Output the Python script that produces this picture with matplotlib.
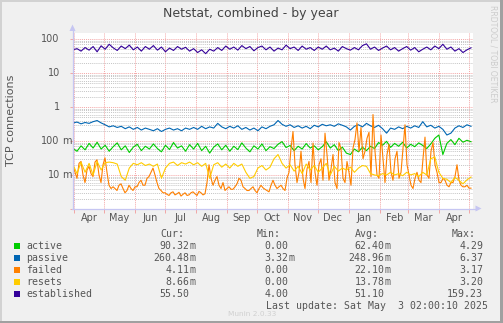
import numpy as np
import matplotlib
matplotlib.use('Agg')
import matplotlib.pyplot as plt
import matplotlib.dates as mdates
import matplotlib.ticker as mticker
import matplotlib.transforms as mtransforms
from matplotlib.patches import Rectangle, Polygon
from matplotlib.lines import Line2D
from datetime import datetime, timedelta

plt.rcParams['lines.scale_dashes'] = False

# ---------------- data ----------------
title = "Netstat, combined - by year"
ylabel = "TCP connections"
series_names = ["active", "passive", "failed", "resets", "established"]
series_colors = ["#00CC00", "#0066B3", "#FF8000", "#FFCC00", "#330099"]

active = [0.060, 0.050, 0.072, 0.055, 0.085, 0.062, 0.092, 0.058, 0.075, 0.050,
          0.068, 0.088, 0.055, 0.072, 0.046, 0.066, 0.080, 0.052, 0.070, 0.058,
          0.082, 0.060, 0.048, 0.075, 0.056, 0.090, 0.062, 0.072, 0.050, 0.078,
          0.058, 0.085, 0.052, 0.070, 0.044, 0.066, 0.082, 0.055, 0.075, 0.050,
          0.070, 0.056, 0.088, 0.062, 0.048, 0.072, 0.058, 0.082, 0.052, 0.068,
          0.060, 0.080, 0.096, 0.064, 0.074, 0.052, 0.070, 0.058, 0.084, 0.062,
          0.072, 0.055, 0.068, 0.095, 0.062, 0.078, 0.052, 0.066, 0.044, 0.040,
          0.058, 0.048, 0.066, 0.052, 0.070, 0.060, 0.090, 0.075, 0.098, 0.065,
          0.085, 0.070, 0.092, 0.062, 0.080, 0.068, 0.088, 0.074, 0.060, 0.082,
          0.120, 0.150, 0.040, 0.085, 0.110, 0.078, 0.120, 0.092, 0.105, 0.095]

passive = [0.34, 0.36, 0.32, 0.35, 0.33, 0.37, 0.40, 0.34, 0.30, 0.26,
           0.28, 0.25, 0.27, 0.23, 0.26, 0.22, 0.25, 0.21, 0.24, 0.22,
           0.20, 0.23, 0.19, 0.22, 0.24, 0.21, 0.23, 0.20, 0.24, 0.22,
           0.25, 0.22, 0.27, 0.23, 0.26, 0.24, 0.33, 0.26, 0.23, 0.27,
           0.24, 0.28, 0.22, 0.25, 0.21, 0.24, 0.20, 0.26, 0.23, 0.27,
           0.30, 0.40, 0.31, 0.27, 0.30, 0.25, 0.28, 0.24, 0.27, 0.23,
           0.29, 0.26, 0.31, 0.28, 0.30, 0.27, 0.32, 0.29, 0.26, 0.21,
           0.27, 0.30, 0.26, 0.33, 0.28, 0.25, 0.29, 0.23, 0.17, 0.24,
           0.22, 0.26, 0.23, 0.27, 0.24, 0.28, 0.25, 0.37, 0.26, 0.29,
           0.24, 0.27, 0.22, 0.15, 0.17, 0.24, 0.28, 0.25, 0.30, 0.27]

# failed is sampled twice as often (spiky series)
failed = [0.020, 0.012, 0.008, 0.022, 0.025, 0.010, 0.006, 0.014, 0.018, 0.011,
          0.009, 0.024, 0.028, 0.010, 0.006, 0.020, 0.032, 0.012, 0.005, 0.004,
          0.0045, 0.004, 0.0035, 0.005, 0.0055, 0.004, 0.003, 0.0035, 0.005, 0.004,
          0.0035, 0.0045, 0.0045, 0.006, 0.007, 0.005, 0.005, 0.008, 0.009, 0.012,
          0.016, 0.010, 0.006, 0.004, 0.0035, 0.003, 0.003, 0.0027, 0.0025, 0.003,
          0.0032, 0.0026, 0.0028, 0.0031, 0.0024, 0.0027, 0.003, 0.0025, 0.0026, 0.003,
          0.0032, 0.0028, 0.0025, 0.0033, 0.0030, 0.0026, 0.0028, 0.006, 0.020, 0.008,
          0.005, 0.007, 0.009, 0.005, 0.004, 0.006, 0.0035, 0.004, 0.0045, 0.0038,
          0.0038, 0.0045, 0.0055, 0.008, 0.007, 0.0045, 0.004, 0.0035, 0.0035, 0.004,
          0.0045, 0.0035, 0.003, 0.004, 0.005, 0.0042, 0.0038, 0.0035, 0.0032, 0.005,
          0.007, 0.005, 0.004, 0.0045, 0.005, 0.004, 0.0035, 0.008, 0.012, 0.06,
          0.19, 0.02, 0.006, 0.012, 0.05, 0.008, 0.004, 0.015, 0.025, 0.006,
          0.087, 0.012, 0.005, 0.02, 0.03, 0.007, 0.17, 0.04, 0.007, 0.015,
          0.04, 0.006, 0.004, 0.09, 0.06, 0.008, 0.006, 0.025, 0.012, 0.005,
          0.062, 0.11, 0.34, 0.05, 0.25, 0.03, 0.05, 0.12, 0.18, 0.009,
          0.6, 0.05, 0.01, 0.008, 0.15, 0.03, 0.006, 0.04, 0.08, 0.012,
          0.007, 0.03, 0.05, 0.008, 0.012, 0.06, 0.3, 0.02, 0.01, 0.005,
          0.004, 0.008, 0.012, 0.007, 0.006, 0.03, 0.13, 0.01, 0.008, 0.05,
          0.09, 0.02, 0.012, 0.006, 0.006, 0.008, 0.007, 0.005, 0.0045, 0.006,
          0.006, 0.009, 0.02, 0.007, 0.005, 0.0045, 0.0045, 0.005, 0.0041, 0.0041]

resets = [0.020, 0.011, 0.024, 0.012, 0.022, 0.010, 0.025, 0.014, 0.023, 0.024,
          0.023, 0.021, 0.009, 0.007, 0.016, 0.022, 0.020, 0.023, 0.019, 0.021,
          0.018, 0.021, 0.008, 0.016, 0.022, 0.024, 0.019, 0.023, 0.021, 0.024,
          0.020, 0.023, 0.018, 0.022, 0.008, 0.020, 0.023, 0.017, 0.021, 0.016,
          0.022, 0.018, 0.021, 0.012, 0.008, 0.009, 0.016, 0.019, 0.014, 0.017,
          0.030, 0.040, 0.022, 0.016, 0.020, 0.013, 0.018, 0.011, 0.021, 0.014,
          0.019, 0.012, 0.016, 0.022, 0.010, 0.018, 0.013, 0.016, 0.014, 0.017,
          0.012, 0.016, 0.019, 0.018, 0.011, 0.010, 0.0095, 0.011, 0.010, 0.012,
          0.010, 0.011, 0.0095, 0.012, 0.010, 0.011, 0.009, 0.012, 0.010, 0.030,
          0.034, 0.012, 0.008, 0.0075, 0.0060, 0.0085, 0.0070, 0.0055, 0.0072, 0.0087]

established = [48, 52, 44, 56, 47, 60, 42, 63, 50, 70,
               55, 46, 62, 52, 66, 48, 58, 44, 60, 50,
               64, 47, 58, 42, 54, 46, 60, 50, 57, 44,
               52, 40, 48, 37, 50, 44, 56, 46, 62, 50,
               58, 47, 64, 52, 60, 45, 56, 62, 48, 58,
               44, 54, 48, 66, 52, 58, 46, 62, 50, 56,
               46, 58, 50, 62, 48, 54, 44, 60, 52, 47,
               56, 48, 64, 72, 50, 58, 46, 54, 62, 48,
               56, 44, 52, 60, 47, 56, 42, 50, 58, 48,
               62, 52, 70, 50, 58, 44, 52, 40, 48, 55]

series_values = [active, passive, failed, resets, established]

ytick_values = [0.01, 0.1, 1, 10, 100]
ytick_numbers = ["10", "100", "1", "10", "100"]
ytick_units = ["m", "m", "", "", ""]

legend_headers = ["Cur:", "Min:", "Avg:", "Max:"]
cur_vals = ["90.32m", "260.48m", "4.11m", "8.66m", "55.50"]
min_vals = ["0.00", "3.32m", "0.00", "0.00", "4.00"]
avg_vals = ["62.40m", "248.96m", "22.10m", "13.78m", "51.10"]
max_vals = ["4.29", "6.37", "3.17", "3.20", "159.23"]
last_update = "Last update: Sat May  3 02:00:10 2025"
watermark = "Munin 2.0.33"
side_text = "RRDTOOL / TOBI OETIKER"

start_date = datetime(2024, 3, 31)
span_days = 400
data_days = 398

# ---------------- figure ----------------
W, H = 503, 323
fig = plt.figure(figsize=(W / 100, H / 100), dpi=100, facecolor="#F0F0F0")


def fx(x):
    return x / W


def fy(y):
    return 1 - y / H


AX_L, AX_R, AX_T, AX_B = 73, 473, 33, 209
ax = fig.add_axes([fx(AX_L), fy(AX_B), (AX_R - AX_L) / W, (AX_B - AX_T) / H])
ax.set_facecolor("white")
for s in ax.spines.values():
    s.set_visible(False)

for vals, col in zip(series_values, series_colors):
    t = [start_date + timedelta(days=float(d)) for d in np.linspace(0, data_days, len(vals))]
    ax.plot(t, vals, color=col, lw=0.8, zorder=3, solid_joinstyle="round")

ax.set_yscale("log")
ax.set_ylim(1e-3, 150)
ax.set_xlim(start_date, start_date + timedelta(days=span_days))

# grids
MGRID = "#F29A9A"
GRID = "#BDBDBD"
ax.xaxis.set_major_locator(mdates.MonthLocator(bymonthday=1))
ax.xaxis.set_minor_locator(mdates.MonthLocator(bymonthday=16))
ax.xaxis.set_major_formatter(mticker.NullFormatter())
ax.xaxis.set_minor_formatter(mdates.DateFormatter("%b"))
ax.yaxis.set_major_locator(mticker.LogLocator(base=10, numticks=20))
ax.yaxis.set_minor_locator(mticker.LogLocator(base=10, subs=np.arange(2, 10), numticks=20))
ax.yaxis.set_major_formatter(mticker.NullFormatter())
ax.yaxis.set_minor_formatter(mticker.NullFormatter())

ax.grid(which="minor", axis="y", color=GRID, lw=0.6, linestyle=(0, (0.75, 0.75)), zorder=1)
ax.grid(which="major", axis="y", color=MGRID, lw=0.6, linestyle=(0, (0.75, 0.75)), zorder=2)
ax.grid(which="major", axis="x", color=MGRID, lw=0.6, linestyle=(0, (0.75, 0.75)), zorder=2)

ax.tick_params(axis="x", which="major", length=3, color=MGRID, width=0.6)
ax.tick_params(axis="x", which="minor", length=0, pad=3, labelsize=7, labelcolor="#555555")
ax.tick_params(axis="y", which="major", length=2, color=MGRID, width=0.6)
ax.tick_params(axis="y", which="minor", length=0)

# y tick labels (number right-aligned, unit after)
ytrans = mtransforms.blended_transform_factory(fig.transFigure, ax.transData)
for v, num, unit in zip(ytick_values, ytick_numbers, ytick_units):
    ax.text(fx(59.8), v, num, transform=ytrans, ha="right", va="center",
            fontsize=7, color="#555555", family="DejaVu Sans")
    if unit:
        ax.text(fx(59.8 + 2.5), v, unit, transform=ytrans, ha="left", va="center",
                fontsize=7, color="#555555", family="DejaVu Sans")

# axis lines with arrows
AXC = "#C6C6F2"
fig.add_artist(Line2D([fx(72.5), fx(72.5)], [fy(209), fy(28)], color=AXC, lw=0.9))
fig.add_artist(Polygon([[fx(69.5), fy(31)], [fx(75.5), fy(31)], [fx(72.5), fy(24.5)]],
                       closed=True, color=AXC, lw=0))
fig.add_artist(Line2D([fx(72), fx(477)], [fy(208.5), fy(208.5)], color=AXC, lw=0.9))
fig.add_artist(Polygon([[fx(475.5), fy(205.5)], [fx(475.5), fy(211.5)], [fx(481.5), fy(208.5)]],
                       closed=True, color=AXC, lw=0))

# frame
fig.add_artist(Rectangle((0, fy(1.5)), 1, 1.5 / H, color="#D2D2D2", lw=0))
fig.add_artist(Rectangle((0, 0), 1.5 / W, 1, color="#D2D2D2", lw=0))
fig.add_artist(Rectangle((fx(500), 0), 3 / W, 1, color="#A0A0A0", lw=0))
fig.add_artist(Rectangle((0, 0), 1, 2.5 / H, color="#A0A0A0", lw=0))

# title, labels
fig.text(fx(251), fy(13.5), title, ha="center", va="center", fontsize=9,
         color="#444444", family="DejaVu Sans")
fig.text(fx(11), fy(120), ylabel, ha="center", va="center", rotation=90,
         fontsize=8, color="#555555", family="DejaVu Sans")
fig.text(fx(493.5), fy(54), side_text, ha="center", va="center", rotation=270,
         fontsize=5.5, color="#CCCCCC", family="DejaVu Sans")
fig.text(fx(252), fy(313.5), watermark, ha="center", va="center", fontsize=5.3,
         color="#D0D0D0", family="DejaVu Sans")

# legend
MONO = dict(family="DejaVu Sans Mono", fontsize=7.15, color="#555555", va="baseline")
hdr_x = [160, 257, 355, 452]
for h, x in zip(legend_headers, hdr_x):
    fig.text(fx(x), fy(237.3), h, ha="left", **MONO)

col_right = [189.5, 288.2, 384.3, 483.2]  # right edge of the number part
cols = [cur_vals, min_vals, avg_vals, max_vals]
for i, (name, col) in enumerate(zip(series_names, series_colors)):
    base = 249.3 + 12 * i
    fig.add_artist(Rectangle((fx(14), fy(base - 0.5)), 6 / W, 6 / H, color=col, lw=0))
    fig.text(fx(26.2), fy(base), name, ha="left", **MONO)
    for c, xr in zip(cols, col_right):
        s = c[i]
        if s[-1].isalpha():
            num, suf = s[:-1], s[-1]
        else:
            num, suf = s, ""
        fig.text(fx(xr), fy(base), num, ha="right", **MONO)
        if suf:
            fig.text(fx(xr + 0.3), fy(base), suf, ha="left", **MONO)

fig.text(fx(488.5), fy(309), last_update, ha="right", **MONO)

fig.savefig("out.png", dpi=100, facecolor=fig.get_facecolor())
